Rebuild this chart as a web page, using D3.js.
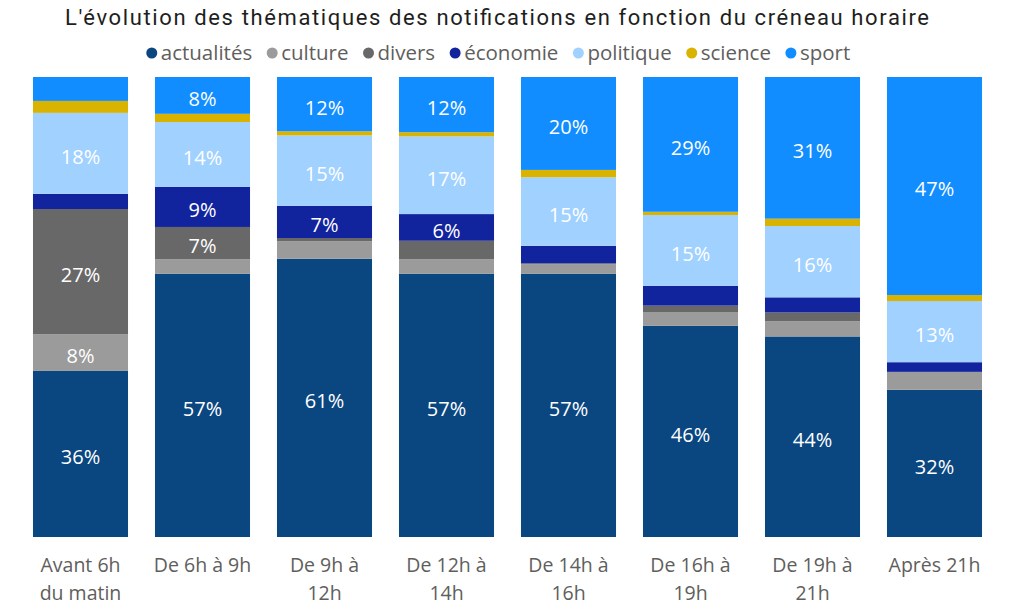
<!DOCTYPE html>
<html>
<head>
<meta charset="utf-8">
<script src="https://cdn.jsdelivr.net/npm/d3@7"></script>
<style>
  body { margin: 0; background: #fff; }
  svg { display: block; }
</style>
</head>
<body>
<div id="chart"></div>
<script>
// Data (share of notifications, %)
const categories = ["Avant 6h du matin", "De 6h à 9h", "De 9h à 12h", "De 12h à 14h",
                    "De 14h à 16h", "De 16h à 19h", "De 19h à 21h", "Après 21h"];
const themes = ["actualités", "culture", "divers", "économie", "politique", "science", "sport"];
const actualites = [36.1, 57.2, 60.5, 57.2, 57.2, 45.9, 43.6, 32.0];
const culture    = [8.0, 3.2, 3.8, 3.2, 2.1, 3.0, 3.3, 3.9];
const divers     = [27.2, 7.0, 0.7, 4.0, 0.2, 1.4, 1.9, 0.0];
const economie   = [3.3, 8.7, 7.0, 5.8, 3.8, 4.3, 3.3, 2.1];
const politique  = [17.6, 14.1, 15.3, 16.9, 14.9, 15.4, 15.5, 13.3];
const science    = [2.6, 1.8, 0.9, 0.9, 1.6, 0.7, 1.6, 1.3];
const sport      = [5.2, 8.0, 11.8, 12.0, 20.2, 29.3, 30.8, 47.4];
const colors = ["#0a4680", "#9b9b9b", "#686868", "#12239e", "#a0d1ff", "#d9b300", "#118dff"];

const W = 1011, H = 613;
const svg = d3.select("#chart").append("svg")
    .attr("width", W)
    .attr("height", H);

const series = [actualites, culture, divers, economie, politique, science, sport];
const rows = categories.map((c, i) => {
    const r = { cat: c };
    themes.forEach((t, k) => { r[t] = series[k][i]; });
    return r;
});
const stacked = d3.stack().keys(themes).offset(d3.stackOffsetExpand)(rows);

const x = d3.scaleBand()
    .domain(categories)
    .range([19.5, 995.5])
    .paddingInner(0.221)
    .paddingOuter(0.1105);

const y = d3.scaleLinear()
    .domain([0, 1])
    .range([537, 77]);

const color = d3.scaleOrdinal().domain(themes).range(colors);

// bars
const layer = svg.append("g").selectAll("g")
    .data(stacked)
    .join("g")
    .attr("fill", d => color(d.key));

layer.selectAll("rect")
    .data(d => d)
    .join("rect")
    .attr("x", d => x(d.data.cat))
    .attr("y", d => y(d[1]))
    .attr("width", x.bandwidth())
    .attr("height", d => y(d[0]) - y(d[1]));

// data labels (only big enough segments)
const labels = svg.append("g");
stacked.forEach(s => {
    s.forEach(d => {
        const v = d[1] - d[0];
        if (v < 0.055) return;
        labels.append("text")
            .attr("x", x(d.data.cat) + x.bandwidth() / 2)
            .attr("y", (y(d[0]) + y(d[1])) / 2)
            .attr("dy", "0.52em")
            .attr("text-anchor", "middle")
            .attr("fill", "#fff")
            .style("font-family", "'Open Sans', sans-serif")
            .style("font-size", "20px")
            .text(Math.round(v * 100) + "%");
    });
});

// x axis (no line, no ticks), wrapped labels
const xAxis = svg.append("g")
    .attr("transform", "translate(0,537)")
    .call(d3.axisBottom(x).tickSize(0).tickPadding(0));
xAxis.select(".domain").remove();
xAxis.selectAll("text")
    .attr("fill", "#605e5c")
    .style("font-family", "'Open Sans', sans-serif")
    .style("font-size", "19.5px")
    .attr("dy", 0)
    .each(function (d) {
        const t = d3.select(this);
        const words = d.split(" ");
        t.text(null);
        let line = [];
        let lineNo = 0;
        let tspan = t.append("tspan").attr("x", 0).attr("y", 35);
        words.forEach(w => {
            line.push(w);
            tspan.text(line.join(" "));
            if (tspan.node().getComputedTextLength() > 102 && line.length > 1) {
                line.pop();
                tspan.text(line.join(" "));
                line = [w];
                lineNo++;
                tspan = t.append("tspan").attr("x", 0).attr("y", 35 + lineNo * 28).text(w);
            }
        });
    });

// title
svg.append("text")
    .attr("x", 497)
    .attr("y", 25)
    .attr("text-anchor", "middle")
    .attr("fill", "#1e1e1e")
    .style("font-family", "Roboto, sans-serif")
    .style("font-size", "22px")
    .attr("textLength", 864)
    .attr("lengthAdjust", "spacing")
    .text("L'évolution des thématiques des notifications en fonction du créneau horaire");

// legend
const legend = svg.append("g");
let lx = 0;
themes.forEach((t, k) => {
    const g = legend.append("g").attr("transform", `translate(${lx},0)`);
    g.append("circle").attr("cx", 6).attr("cy", 0).attr("r", 5.5).attr("fill", colors[k]);
    const tx = g.append("text")
        .attr("x", 15)
        .attr("dy", "0.35em")
        .attr("fill", "#605e5c")
        .style("font-family", "'Open Sans', sans-serif")
        .style("font-size", "20.5px")
        .text(t);
    lx += 15 + tx.node().getComputedTextLength() + 14;
});
legend.attr("transform", `translate(${498 - (lx - 14) / 2},53)`);
</script>
</body>
</html>
